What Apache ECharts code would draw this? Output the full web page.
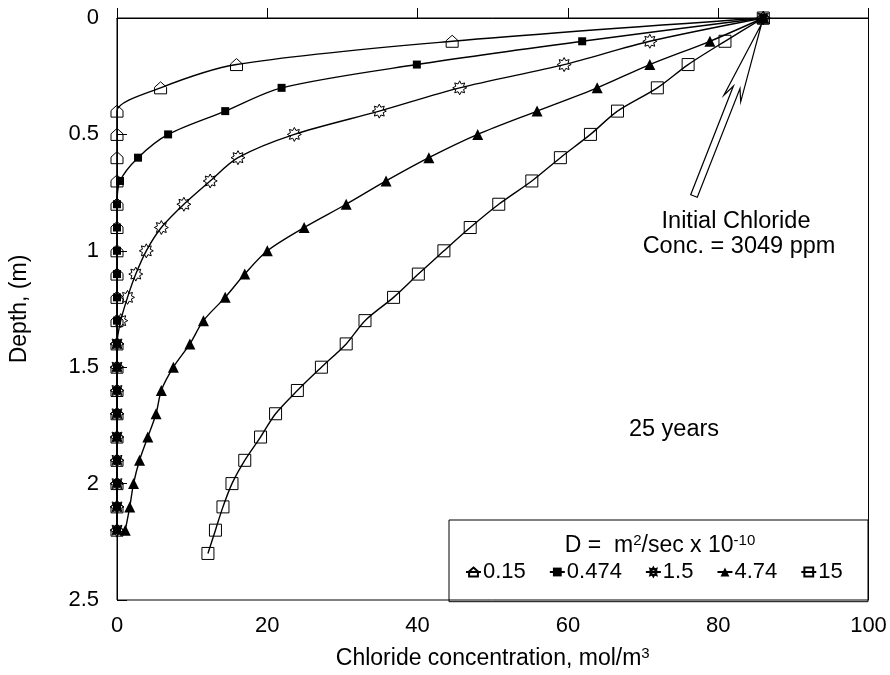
<!DOCTYPE html>
<html>
<head>
<meta charset="utf-8">
<script src="https://cdn.jsdelivr.net/npm/echarts@6/dist/echarts.min.js"></script>
<style>
  html, body { margin: 0; padding: 0; background: #fff; }
  #chart { width: 890px; height: 675px; }
</style>
</head>
<body>
<div id="chart"></div>
<script>
// Chloride profiles after 25 years for five diffusion coefficients
const depthM = [0, 0.1, 0.2, 0.3, 0.4, 0.5, 0.6, 0.7, 0.8, 0.9, 1.0, 1.1,
                1.2, 1.3, 1.4, 1.5, 1.6, 1.7, 1.8, 1.9, 2.0, 2.1, 2.2];
const depthM15 = [0, 0.1, 0.2, 0.3, 0.4, 0.5, 0.6, 0.7, 0.8, 0.9, 1.0, 1.1,
                  1.2, 1.3, 1.4, 1.5, 1.6, 1.7, 1.8, 1.9, 2.0, 2.1, 2.2, 2.3];

const concD015  = [86, 44.6, 15.9, 5.8, 0, 0, 0, 0, 0, 0, 0, 0,
                   0, 0, 0, 0, 0, 0, 0, 0, 0, 0, 0];
const concD0474 = [86, 61.9, 39.9, 21.9, 14.4, 6.8, 2.8, 0.4, 0, 0, 0, 0,
                   0, 0, 0, 0, 0, 0, 0, 0, 0, 0, 0];
const concD15   = [86, 70.9, 59.5, 45.6, 34.9, 23.6, 16.1, 12.4, 8.9, 5.9, 3.9, 2.5,
                   1.4, 0.5, 0, 0, 0, 0, 0, 0, 0, 0, 0];
const concD474  = [86, 78.9, 70.9, 63.9, 55.9, 48.0, 41.5, 35.8, 30.5, 24.9, 20.0, 17.0,
                   14.4, 11.5, 9.7, 7.5, 5.9, 5.2, 4.1, 3.0, 2.2, 1.7, 1.1];
const concD15s  = [86, 80.9, 76.0, 71.9, 66.6, 63.0, 59.0, 55.2, 50.8, 47.0, 43.5, 40.1,
                   36.8, 33.0, 30.5, 27.2, 24.0, 21.1, 19.1, 17.0, 15.3, 14.1, 13.1, 12.1];

const seriesNames = ['0.15', '0.474', '1.5', '4.74', '15'];
const xTicks = { min: 0, max: 100, interval: 20 };
const yTicks = { min: 0, max: 2.5, interval: 0.5 };

const FONT = "'Liberation Sans', Arial, sans-serif";

// marker shapes
const houseSymbol = 'path://M5,0 L10,4.5 L10,10 L0,10 L0,4.5 Z';
function starPath(points, rIn) {
  let d = '';
  for (let i = 0; i < points * 2; i++) {
    const r = i % 2 === 0 ? 10 : 10 * rIn;
    const a = Math.PI * i / points - Math.PI / 2;
    d += (i === 0 ? 'M' : 'L') + (10 + r * Math.cos(a)).toFixed(2) + ',' + (10 + r * Math.sin(a)).toFixed(2) + ' ';
  }
  return 'path://' + d + 'Z';
}
const sunSymbol = starPath(8, 0.6);

function pairs(depths, concs) {
  return depths.map((d, i) => [concs[i], d]);
}

const hollow = { color: 'rgba(255,255,255,0)', borderColor: '#000', borderWidth: 1 };
const solid = { color: '#000', borderColor: '#000', borderWidth: 0 };

function makeSeries(name, data, symbol, size, style) {
  return {
    name: name,
    type: 'line',
    data: data,
    smooth: 0.3,
    symbol: symbol,
    symbolSize: size,
    showAllSymbol: true,
    lineStyle: { color: '#000', width: 1.4 },
    itemStyle: style,
    emphasis: { disabled: true },
    animation: false
  };
}

const chart = echarts.init(document.getElementById('chart'), null, { renderer: 'canvas' });

chart.setOption({
  backgroundColor: '#fff',
  animation: false,
  textStyle: { fontFamily: FONT, color: '#000' },
  grid: {
    left: 116.5, right: 21.5, top: 18, bottom: 73.3,
    show: true, borderColor: '#000', borderWidth: 1, backgroundColor: 'transparent'
  },
  xAxis: {
    type: 'value',
    min: xTicks.min, max: xTicks.max, interval: xTicks.interval,
    axisLine: { show: true, lineStyle: { color: '#000', width: 1 } },
    axisTick: { show: true, inside: true, length: 10, lineStyle: { color: '#000' } },
    splitLine: { show: false },
    axisLabel: { fontSize: 22, color: '#000', margin: 15, fontFamily: FONT },
    name: '{t|Chloride concentration, mol/m}{s|3}',
    nameLocation: 'middle',
    nameGap: 46,
    nameTextStyle: {
      rich: {
        t: { fontSize: 23, fontFamily: FONT, color: '#000' },
        s: { fontSize: 15, fontFamily: FONT, color: '#000', verticalAlign: 'top', padding: [0, 0, 10, 0] }
      }
    }
  },
  yAxis: {
    type: 'value',
    inverse: true,
    min: yTicks.min, max: yTicks.max, interval: yTicks.interval,
    axisLine: { show: true, lineStyle: { color: '#000', width: 1 } },
    axisTick: { show: true, inside: true, length: 10, lineStyle: { color: '#000' } },
    splitLine: { show: false },
    axisLabel: { fontSize: 22, color: '#000', margin: 18, fontFamily: FONT },
    name: 'Depth, (m)',
    nameLocation: 'middle',
    nameGap: 86,
    nameTextStyle: { fontSize: 23, fontFamily: FONT, color: '#000' }
  },
  legend: {
    data: seriesNames,
    left: 465, top: 561,
    orient: 'horizontal',
    itemWidth: 15, itemHeight: 11,
    itemGap: 23,
    padding: 0,
    selectedMode: false,
    textStyle: { fontSize: 22, fontFamily: FONT, color: '#000', padding: [0, 0, 0, -3] }
  },
  series: [
    makeSeries(seriesNames[0], pairs(depthM, concD015), houseSymbol, [12, 12], hollow),
    makeSeries(seriesNames[1], pairs(depthM, concD0474), 'rect', 8, solid),
    makeSeries(seriesNames[2], pairs(depthM, concD15), sunSymbol, 14, hollow),
    makeSeries(seriesNames[3], pairs(depthM, concD474), 'triangle', 11, solid),
    makeSeries(seriesNames[4], pairs(depthM15, concD15s), 'rect', 12, hollow)
  ],
  graphic: [
    // legend frame
    {
      type: 'rect', z: 0,
      shape: { x: 449, y: 520, width: 419, height: 81.7 },
      style: { fill: 'transparent', stroke: '#000', lineWidth: 1 }
    },
    {
      type: 'text', z: 10,
      x: 660, y: 546,
      style: {
        text: '{t|D =  m}{s|2}{t|/sec x 10}{s|-10}',
        align: 'center', verticalAlign: 'middle',
        rich: {
          t: { fontSize: 23, fontFamily: FONT, fill: '#000' },
          s: { fontSize: 15, fontFamily: FONT, fill: '#000', verticalAlign: 'top', padding: [0, 0, 10, 0] }
        }
      }
    },
    // surface concentration callout
    {
      type: 'polygon', z: 20,
      shape: {
        points: [[761.5, 24], [740.7, 101.8], [740.0, 88.6], [697.3, 197.3],
                 [690.7, 194.7], [733.4, 86.0], [723.9, 95.2]]
      },
      style: { fill: 'transparent', stroke: '#000', lineWidth: 1.2 }
    },
    {
      type: 'text', z: 20, x: 736, y: 222,
      style: { text: 'Initial Chloride', align: 'center', verticalAlign: 'middle', fontSize: 23.5, fontFamily: FONT, fill: '#000' }
    },
    {
      type: 'text', z: 20, x: 739, y: 247,
      style: { text: 'Conc. = 3049 ppm', align: 'center', verticalAlign: 'middle', fontSize: 23.5, fontFamily: FONT, fill: '#000' }
    },
    {
      type: 'text', z: 20, x: 674, y: 430,
      style: { text: '25 years', align: 'center', verticalAlign: 'middle', fontSize: 23.5, fontFamily: FONT, fill: '#000' }
    }
  ]
});
</script>
</body>
</html>
